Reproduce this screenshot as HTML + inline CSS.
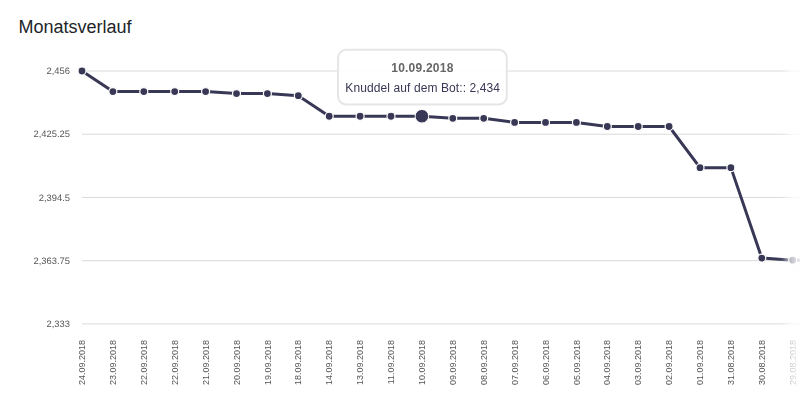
<!DOCTYPE html>
<html><head><meta charset="utf-8"><style>
html,body{margin:0;padding:0;background:#fff;width:800px;height:400px;overflow:hidden}
h3{position:absolute;left:18.5px;top:16px;margin:0;font:18px/22px "Liberation Sans",Arial,sans-serif;color:#212529;font-weight:normal}
svg{position:absolute;left:0;top:0}
.txt{will-change:transform}
.yl{font-family:"Liberation Sans",Arial,sans-serif;font-size:9.4px;fill:#555;text-rendering:geometricPrecision}
.xl{font-family:"Liberation Sans",Arial,sans-serif;font-size:9px;fill:#555}
.tt1{font-family:"Liberation Sans",Arial,sans-serif;font-size:12px;font-weight:bold;fill:#666;letter-spacing:0.22px}
.tt2{font-family:"Liberation Sans",Arial,sans-serif;font-size:12px;fill:#383856;letter-spacing:0.1px}
.fade{position:absolute;left:778px;top:0;width:22px;height:400px;background:linear-gradient(to right,rgba(255,255,255,0) 0px,rgba(255,255,255,0.1) 4px,rgba(255,255,255,0.35) 8px,rgba(255,255,255,0.6) 11px,rgba(255,255,255,0.72) 14px,rgba(255,255,255,0.8) 18px,rgba(255,255,255,0.88) 22px)}
</style></head><body>
<h3>Monatsverlauf</h3>
<svg width="800" height="400" viewBox="0 0 800 400">
<line x1="82.0" y1="71.00" x2="800" y2="71.00" stroke="#dadada" stroke-width="1"/>
<line x1="82.0" y1="134.22" x2="800" y2="134.22" stroke="#dadada" stroke-width="1"/>
<line x1="82.0" y1="197.45" x2="800" y2="197.45" stroke="#dadada" stroke-width="1"/>
<line x1="82.0" y1="260.67" x2="800" y2="260.67" stroke="#dadada" stroke-width="1"/>
<line x1="82.0" y1="323.90" x2="800" y2="323.90" stroke="#dadada" stroke-width="1"/>
<polyline points="82.00,71.00 112.90,91.56 143.80,91.56 174.70,91.56 205.60,91.56 236.50,93.62 267.40,93.62 298.30,95.67 329.20,116.23 360.10,116.23 391.00,116.23 421.90,116.23 452.80,118.29 483.70,118.29 514.60,122.40 545.50,122.40 576.40,122.40 607.30,126.51 638.20,126.51 669.10,126.51 700.00,167.64 730.90,167.64 761.80,258.10 792.70,260.16 823.60,260.16" fill="none" stroke="#383856" stroke-width="3" stroke-linejoin="round"/>
<circle cx="82.00" cy="71.00" r="4" fill="#383856" stroke="#fff" stroke-width="1.2"/>
<circle cx="112.90" cy="91.56" r="4" fill="#383856" stroke="#fff" stroke-width="1.2"/>
<circle cx="143.80" cy="91.56" r="4" fill="#383856" stroke="#fff" stroke-width="1.2"/>
<circle cx="174.70" cy="91.56" r="4" fill="#383856" stroke="#fff" stroke-width="1.2"/>
<circle cx="205.60" cy="91.56" r="4" fill="#383856" stroke="#fff" stroke-width="1.2"/>
<circle cx="236.50" cy="93.62" r="4" fill="#383856" stroke="#fff" stroke-width="1.2"/>
<circle cx="267.40" cy="93.62" r="4" fill="#383856" stroke="#fff" stroke-width="1.2"/>
<circle cx="298.30" cy="95.67" r="4" fill="#383856" stroke="#fff" stroke-width="1.2"/>
<circle cx="329.20" cy="116.23" r="4" fill="#383856" stroke="#fff" stroke-width="1.2"/>
<circle cx="360.10" cy="116.23" r="4" fill="#383856" stroke="#fff" stroke-width="1.2"/>
<circle cx="391.00" cy="116.23" r="4" fill="#383856" stroke="#fff" stroke-width="1.2"/>
<circle cx="421.90" cy="116.23" r="6.8" fill="#383856" stroke="#fff" stroke-width="1"/>
<circle cx="452.80" cy="118.29" r="4" fill="#383856" stroke="#fff" stroke-width="1.2"/>
<circle cx="483.70" cy="118.29" r="4" fill="#383856" stroke="#fff" stroke-width="1.2"/>
<circle cx="514.60" cy="122.40" r="4" fill="#383856" stroke="#fff" stroke-width="1.2"/>
<circle cx="545.50" cy="122.40" r="4" fill="#383856" stroke="#fff" stroke-width="1.2"/>
<circle cx="576.40" cy="122.40" r="4" fill="#383856" stroke="#fff" stroke-width="1.2"/>
<circle cx="607.30" cy="126.51" r="4" fill="#383856" stroke="#fff" stroke-width="1.2"/>
<circle cx="638.20" cy="126.51" r="4" fill="#383856" stroke="#fff" stroke-width="1.2"/>
<circle cx="669.10" cy="126.51" r="4" fill="#383856" stroke="#fff" stroke-width="1.2"/>
<circle cx="700.00" cy="167.64" r="4" fill="#383856" stroke="#fff" stroke-width="1.2"/>
<circle cx="730.90" cy="167.64" r="4" fill="#383856" stroke="#fff" stroke-width="1.2"/>
<circle cx="761.80" cy="258.10" r="4" fill="#383856" stroke="#fff" stroke-width="1.2"/>
<circle cx="792.70" cy="260.16" r="4" fill="#383856" stroke="#fff" stroke-width="1.2"/>
<rect x="338" y="49.85" width="168.8" height="54.55" rx="8" ry="8" fill="rgba(255,255,255,0.92)" stroke="#e6e6e6" stroke-width="2"/>
</svg>
<svg class="txt" width="800" height="400" viewBox="0 0 800 400">
<text transform="translate(70,70.70) scale(1,1.0)" class="yl" text-anchor="end" dominant-baseline="central">2,456</text>
<text transform="translate(70,133.92) scale(1,1.0)" class="yl" text-anchor="end" dominant-baseline="central">2,425.25</text>
<text transform="translate(70,197.15) scale(1,1.0)" class="yl" text-anchor="end" dominant-baseline="central">2,394.5</text>
<text transform="translate(70,260.37) scale(1,1.0)" class="yl" text-anchor="end" dominant-baseline="central">2,363.75</text>
<text transform="translate(70,323.60) scale(1,1.0)" class="yl" text-anchor="end" dominant-baseline="central">2,333</text>
<text class="xl" transform="translate(82.00,340) rotate(-90) scale(1,1.08)" text-anchor="end" dominant-baseline="central">24.09.2018</text>
<text class="xl" transform="translate(112.90,340) rotate(-90) scale(1,1.08)" text-anchor="end" dominant-baseline="central">23.09.2018</text>
<text class="xl" transform="translate(143.80,340) rotate(-90) scale(1,1.08)" text-anchor="end" dominant-baseline="central">22.09.2018</text>
<text class="xl" transform="translate(174.70,340) rotate(-90) scale(1,1.08)" text-anchor="end" dominant-baseline="central">22.09.2018</text>
<text class="xl" transform="translate(205.60,340) rotate(-90) scale(1,1.08)" text-anchor="end" dominant-baseline="central">21.09.2018</text>
<text class="xl" transform="translate(236.50,340) rotate(-90) scale(1,1.08)" text-anchor="end" dominant-baseline="central">20.09.2018</text>
<text class="xl" transform="translate(267.40,340) rotate(-90) scale(1,1.08)" text-anchor="end" dominant-baseline="central">19.09.2018</text>
<text class="xl" transform="translate(298.30,340) rotate(-90) scale(1,1.08)" text-anchor="end" dominant-baseline="central">18.09.2018</text>
<text class="xl" transform="translate(329.20,340) rotate(-90) scale(1,1.08)" text-anchor="end" dominant-baseline="central">14.09.2018</text>
<text class="xl" transform="translate(360.10,340) rotate(-90) scale(1,1.08)" text-anchor="end" dominant-baseline="central">13.09.2018</text>
<text class="xl" transform="translate(391.00,340) rotate(-90) scale(1,1.08)" text-anchor="end" dominant-baseline="central">11.09.2018</text>
<text class="xl" transform="translate(421.90,340) rotate(-90) scale(1,1.08)" text-anchor="end" dominant-baseline="central">10.09.2018</text>
<text class="xl" transform="translate(452.80,340) rotate(-90) scale(1,1.08)" text-anchor="end" dominant-baseline="central">09.09.2018</text>
<text class="xl" transform="translate(483.70,340) rotate(-90) scale(1,1.08)" text-anchor="end" dominant-baseline="central">08.09.2018</text>
<text class="xl" transform="translate(514.60,340) rotate(-90) scale(1,1.08)" text-anchor="end" dominant-baseline="central">07.09.2018</text>
<text class="xl" transform="translate(545.50,340) rotate(-90) scale(1,1.08)" text-anchor="end" dominant-baseline="central">06.09.2018</text>
<text class="xl" transform="translate(576.40,340) rotate(-90) scale(1,1.08)" text-anchor="end" dominant-baseline="central">05.09.2018</text>
<text class="xl" transform="translate(607.30,340) rotate(-90) scale(1,1.08)" text-anchor="end" dominant-baseline="central">04.09.2018</text>
<text class="xl" transform="translate(638.20,340) rotate(-90) scale(1,1.08)" text-anchor="end" dominant-baseline="central">03.09.2018</text>
<text class="xl" transform="translate(669.10,340) rotate(-90) scale(1,1.08)" text-anchor="end" dominant-baseline="central">02.09.2018</text>
<text class="xl" transform="translate(700.00,340) rotate(-90) scale(1,1.08)" text-anchor="end" dominant-baseline="central">01.09.2018</text>
<text class="xl" transform="translate(730.90,340) rotate(-90) scale(1,1.08)" text-anchor="end" dominant-baseline="central">31.08.2018</text>
<text class="xl" transform="translate(761.80,340) rotate(-90) scale(1,1.08)" text-anchor="end" dominant-baseline="central">30.08.2018</text>
<text class="xl" transform="translate(792.70,340) rotate(-90) scale(1,1.08)" text-anchor="end" dominant-baseline="central">29.08.2018</text>
<text class="tt1" x="422.4" y="71.6" text-anchor="middle">10.09.2018</text>
<text class="tt2" x="345.3" y="92">Knuddel auf dem Bot:: 2,434</text>
</svg>
<div class="fade"></div>
</body></html>
